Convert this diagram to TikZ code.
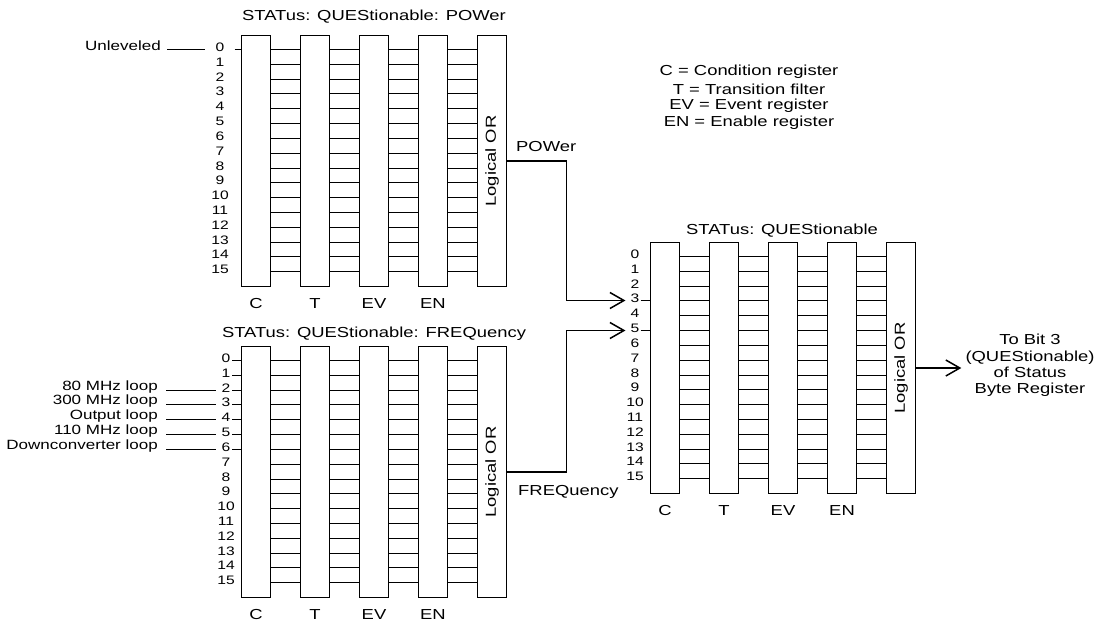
\documentclass[tikz,border=0pt]{standalone}
\usepackage{fontspec}
\setmainfont[FakeStretch=1.27]{Liberation Sans}
\usetikzlibrary{arrows.meta,calc}
\tikzset{
  regbox/.style={draw, line width=1.5pt, minimum width=29pt, minimum height=251pt, inner sep=0pt, outer sep=0pt, anchor=north west},
  wire/.style={line width=1.5pt},
  arr/.style={line width=1.5pt, -{Straight Barb[length=14pt,width=16pt]}},
  txt/.style={inner sep=0pt, font=\fontsize{14.5}{16.3}\selectfont},
  intxt/.style={inner sep=0pt, anchor=east, font=\fontsize{13.4}{15}\selectfont},
  bit/.style={inner sep=0pt, font=\fontsize{12.3}{13}\selectfont},
}
\newcommand\regblock[4]{%
  \foreach \k [count=\i from 0] in {C,T,EV,EN,OR} {
    \node[regbox] (#1\k) at ({#2+\i*59},#3) {};
  }
  \foreach \k in {C,T,EV,EN} {
    \node[txt] (#1L\k) at ([yshift=-17pt]#1\k.south) {\k};
  }
  \node[txt, rotate=90] (#1LOR) at (#1OR) {Logical OR};
  \foreach \r in {0,...,15} {
    \pgfmathsetmacro\ry{#3+14+round(\r*14.82)}
    \coordinate (#1r\r) at ({#2},\ry);
    \node[bit] (#1b\r) at ({#4},\ry-2) {\r};
    \foreach \a/\b in {C/T,T/EV,EV/EN,EN/OR}
      \draw[wire] (#1\a.east |- #1r\r) -- (#1\b.west |- #1r\r);
  }
}
\begin{document}
\begin{tikzpicture}[x=1pt,y=-1pt]
\useasboundingbox (0,0) rectangle (1099,625);
\regblock{t}{241.5}{35.5}{220}
\regblock{f}{241.5}{346.5}{226}
\regblock{q}{650.5}{242.5}{635}
% titles
\node[txt] (tTitle) at (374,17) {STATus: QUEStionable: POWer};
\node[txt] (fTitle) at (374,334) {STATus: QUEStionable: FREQuency};
\node[txt] (qTitle) at (782,231) {STATus: QUEStionable};
% legend
\node[txt] (lg1) at (749,72) {C = Condition register};
\node[txt] (lg2) at (749,89) {T = Transition filter};
\node[txt] (lg3) at (749,106) {EV = Event register};
\node[txt] (lg4) at (749,123) {EN = Enable register};
% POWer inputs
\node[intxt] (unlev) at (161,46) {Unleveled};
\draw[wire, shorten <=6pt, shorten >=10pt] (unlev.east |- tr0) -- (tb0.west |- tr0);
\draw[wire, shorten <=10pt] (tb0.east |- tr0) -- (tr0);
% FREQuency inputs
\foreach \r/\t in {2/80 MHz loop,3/300 MHz loop,4/Output loop,5/110 MHz loop,6/Downconverter loop} {
  \node[intxt] (in\r) at ($(158,0 |- fr\r)+(0,-3.5)$) {\t};
  \draw[wire, shorten <=8pt, shorten >=5pt] (in\r.east |- fr\r) -- (fb\r.west |- fr\r);
}
\foreach \r in {0,...,6}
  \draw[wire, shorten <=1.5pt] (fb\r.east |- fr\r) -- (fr\r);
% summary connections
\coordinate (jP) at (566.5,0);
\node[txt, anchor=west] (powlab) at (516,147) {POWer};
\node[txt, anchor=west] (freqlab) at (518,492) {FREQuency};
\draw[arr, shorten >=5pt] (tOR.east) -| (jP |- qr3) -- (qb3.west |- qr3);
\draw[arr, shorten >=5pt] (fOR.east) -| (jP |- qr5) -- (qb5.west |- qr5);
\draw[wire, shorten <=1pt] (qb3.east |- qr3) -- (qr3);
\draw[wire, shorten <=1pt] (qb5.east |- qr5) -- (qr5);
% output
\node[txt, align=center] (outtxt) at (1030,365.5) {To Bit 3\\(QUEStionable)\\of Status\\Byte Register};
\draw[arr, shorten >=4pt] (qOR.east) -- (qOR.east -| outtxt.west);
\end{tikzpicture}
\end{document}
